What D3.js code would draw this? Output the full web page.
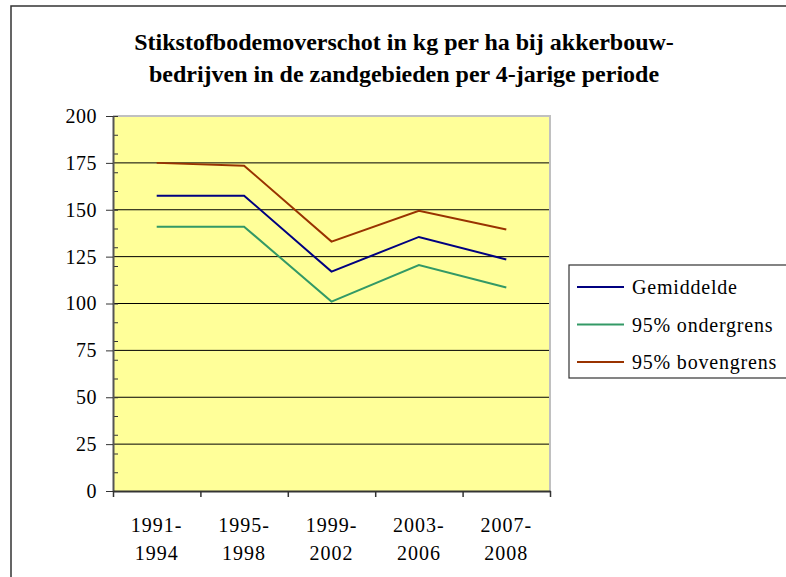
<!DOCTYPE html>
<html>
<head>
<meta charset="utf-8">
<script src="https://cdn.jsdelivr.net/npm/d3@7"></script>
<style>
  body { margin: 0; background: #fff; }
</style>
</head>
<body>
<div id="chart"></div>
<script>
  var periods = ["1991-1994", "1995-1998", "1999-2002", "2003-2006", "2007-2008"];
  var gemiddelde = [157.5, 157.5, 117, 135.5, 123.5];
  var ondergrens = [141, 141, 101, 120.5, 108.5];
  var bovengrens = [175, 173.5, 133, 149.5, 139.5];
  var seriesNames = ["Gemiddelde", "95% ondergrens", "95% bovengrens"];
  var seriesColors = ["#000080", "#339966", "#993300"];
  var yTicks = [0, 25, 50, 75, 100, 125, 150, 175, 200];
  var titleLines = ["Stikstofbodemoverschot in kg per ha bij akkerbouw-",
    "bedrijven in de zandgebieden per 4-jarige periode"];

  var width = 786,
    height = 577;

  var plot = { left: 113, top: 116, right: 550, bottom: 491 };

  var svg = d3.select("#chart")
    .append("svg")
    .attr("width", width)
    .attr("height", height)
    .attr("font-family", "'Liberation Serif', 'Times New Roman', serif")

  // outer chart border (right and bottom fall outside the picture)
  svg.append("rect")
    .attr("x", 11).attr("y", 6)
    .attr("width", 800).attr("height", 600)
    .attr("fill", "none")
    .attr("stroke", "#333")
    .attr("stroke-width", 1.5)

  // title, sized so the first line is about 560px wide
  var title = svg.selectAll(".title")
    .data(titleLines)
    .enter().append("text")
    .attr("class", "title")
    .attr("x", 404)
    .attr("y", function (d, i) { return 50 + i * 32 })
    .attr("text-anchor", "middle")
    .attr("font-size", "24px")
    .attr("font-weight", "bold")
    .text(function (d) { return d })
  var w0 = title.node().getComputedTextLength();
  var fs = Math.min(24, 24 * 560 / w0);
  title.attr("font-size", fs + "px")

  var x = d3.scaleBand().domain(periods).range([plot.left, plot.right]).padding(0);
  var xEdges = d3.scaleLinear().domain([0, periods.length]).range([plot.left, plot.right]);
  var y = d3.scaleLinear().domain([0, 200]).range([plot.bottom, plot.top]);

  // plot background
  svg.append("rect")
    .attr("x", plot.left).attr("y", plot.top)
    .attr("width", plot.right - plot.left)
    .attr("height", plot.bottom - plot.top)
    .attr("fill", "#ffff99")

  // gridlines
  svg.append("g")
    .selectAll("line")
    .data(yTicks.filter(function (d) { return d > 0 && d < 200 }))
    .enter().append("line")
    .attr("x1", plot.left).attr("x2", plot.right)
    .attr("y1", function (d) { return y(d) })
    .attr("y2", function (d) { return y(d) })
    .attr("stroke", "#000")
    .attr("stroke-width", 1)

  // gray frame top/right
  svg.append("path")
    .attr("d", "M" + plot.left + "," + y(200) + "H" + plot.right + "V" + plot.bottom)
    .attr("fill", "none")
    .attr("stroke", "#c0c0c0")
    .attr("stroke-width", 2)

  // minor y ticks (inside)
  svg.append("g")
    .attr("transform", "translate(" + plot.left + ",0)")
    .call(d3.axisLeft(y).tickValues(d3.range(0, 201, 10)).tickSize(-5).tickFormat(""))
    .call(function (g) {
      g.select(".domain").remove()
      g.selectAll("line").attr("stroke", "#333")
    })

  // major y axis
  var yAxis = svg.append("g")
    .attr("transform", "translate(" + plot.left + ",0)")
    .call(d3.axisLeft(y).tickValues(yTicks).tickSizeInner(7).tickSizeOuter(0).tickPadding(9))
  yAxis.attr("font-family", null).attr("font-size", null)
  yAxis.select(".domain").attr("stroke", "#555").attr("stroke-width", 2)
  yAxis.selectAll(".tick line").attr("stroke", "#333")
  yAxis.selectAll(".tick text")
    .attr("font-size", "20px")
    .attr("letter-spacing", "0.5px")
    .attr("fill", "#000")

  // x axis: ticks at category boundaries
  var xAxis = svg.append("g")
    .attr("transform", "translate(0," + plot.bottom + ")")
    .call(d3.axisBottom(xEdges).tickValues(d3.range(0, periods.length + 1)).tickSizeInner(6).tickSizeOuter(0).tickFormat(""))
  xAxis.select(".domain").attr("stroke", "#333").attr("stroke-width", 2)
  xAxis.selectAll(".tick line").attr("stroke", "#333").attr("stroke-width", 1.5)

  // x labels, two lines each
  var xLabels = svg.append("g")
    .selectAll("text")
    .data(periods)
    .enter().append("text")
    .attr("text-anchor", "middle")
    .attr("font-size", "20px")
    .attr("letter-spacing", "1px")
    .attr("fill", "#000")
  xLabels.append("tspan")
    .attr("x", function (d) { return x(d) + x.bandwidth() / 2 })
    .attr("y", 532)
    .text(function (d) { return d.split("-")[0] + "-" })
  xLabels.append("tspan")
    .attr("x", function (d) { return x(d) + x.bandwidth() / 2 })
    .attr("y", 560)
    .text(function (d) { return d.split("-")[1] })

  // series lines
  var seriesData = [gemiddelde, ondergrens, bovengrens];
  var line = d3.line()
    .x(function (d, i) { return x(periods[i]) + x.bandwidth() / 2 })
    .y(function (d) { return y(d) })

  svg.append("g")
    .selectAll("path")
    .data(seriesData)
    .enter().append("path")
    .attr("d", line)
    .attr("fill", "none")
    .attr("stroke", function (d, i) { return seriesColors[i] })
    .attr("stroke-width", 2)

  // legend
  var legend = svg.append("g")
  legend.append("rect")
    .attr("x", 569).attr("y", 265)
    .attr("width", 240).attr("height", 113)
    .attr("fill", "#fff")
    .attr("stroke", "#333")
    .attr("stroke-width", 1.2)

  var items = legend.selectAll(".item")
    .data(seriesNames)
    .enter().append("g")
    .attr("class", "item")
    .attr("transform", function (d, i) { return "translate(0," + (287 + i * 37.5) + ")" })
  items.append("line")
    .attr("x1", 577).attr("x2", 624)
    .attr("stroke", function (d, i) { return seriesColors[i] })
    .attr("stroke-width", 2)
  items.append("text")
    .attr("x", 632)
    .attr("dy", "0.35em")
    .attr("font-size", "20px")
    .attr("letter-spacing", "0.8px")
    .attr("fill", "#000")
    .text(function (d) { return d })
</script>
</body>
</html>
